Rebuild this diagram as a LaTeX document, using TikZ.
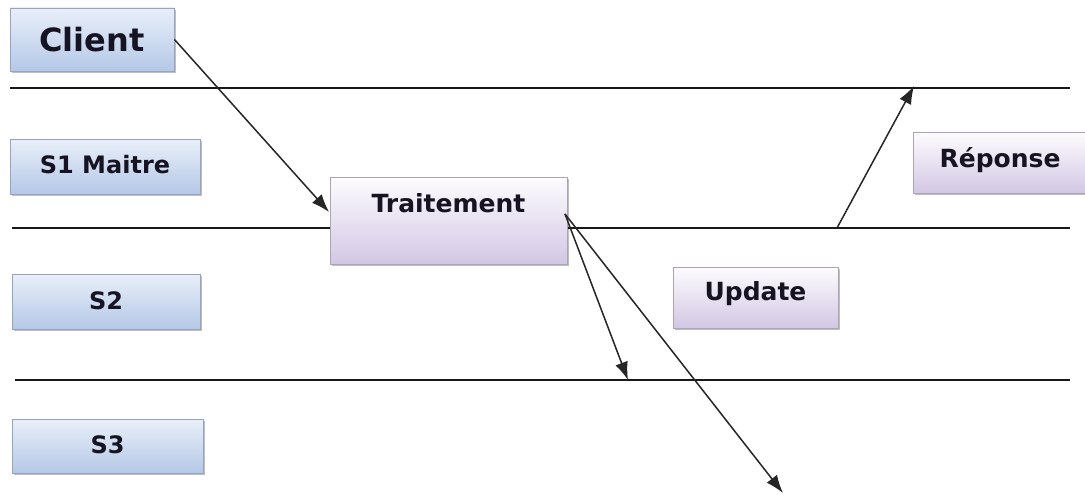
\documentclass[tikz,border=0pt]{standalone}
\usepackage{fontspec}
\setmainfont{DejaVu Sans}
\usetikzlibrary{arrows.meta,shadows}
\definecolor{bluetop}{RGB}{233,239,249}
\definecolor{bluebot}{RGB}{180,200,231}
\definecolor{blueedge}{RGB}{150,164,190}
\definecolor{lilactop}{RGB}{253,252,254}
\definecolor{lilacbot}{RGB}{211,199,228}
\definecolor{lilacedge}{RGB}{170,164,182}
\definecolor{ink}{RGB}{22,20,34}
\tikzset{
  lanebox/.style={rectangle, inner sep=0pt, draw=blueedge, line width=0.9pt,
    top color=bluetop, bottom color=bluebot,
    font=\bfseries\fontsize{24}{28}\selectfont, text=ink,
    drop shadow={shadow xshift=1.5pt, shadow yshift=-2pt, fill=black, opacity=0.25}},
  stepbox/.style={rectangle, inner sep=0pt, draw=lilacedge, line width=0.9pt,
    top color=lilactop, bottom color=lilacbot,
    font=\bfseries\fontsize{25}{30}\selectfont, text=ink,
    drop shadow={shadow xshift=1.5pt, shadow yshift=-2pt, fill=black, opacity=0.25}},
  lane/.style={line width=1.7pt, black!90},
  msg/.style={line width=1.5pt, black!85, -{Latex[length=18pt,width=13pt]}}
}
\begin{document}
\begin{tikzpicture}[x=1pt,y=-1pt]
\useasboundingbox (0,0) rectangle (1085,495);
\fill[white] (0,0) rectangle (1085,495);

% lane separators
\draw[lane] (10,88) -- (1070,88);
\draw[lane] (12,228) -- (1070,228);
\draw[lane] (15,380) -- (1070,380);

% participants
\node[lanebox, minimum width=164pt, minimum height=63pt, text height=44pt, text depth=19pt,
      font=\bfseries\fontsize{32}{38}\selectfont] (client) at (92,39.5) {Client};
\node[lanebox, minimum width=190pt, minimum height=55pt, text height=34pt, text depth=21pt] (s1) at (105,166.5) {S1 Maitre};
\node[lanebox, minimum width=188pt, minimum height=55pt, text height=35pt, text depth=20pt] (s2) at (106,301.5) {S2};
\node[lanebox, minimum width=191pt, minimum height=54pt, text height=34pt, text depth=20pt] (s3) at (107.5,446) {S3};

% processing steps
\node[stepbox, minimum width=237pt, minimum height=87pt, text height=35pt, text depth=52pt] (trait) at (448.5,220.5) {Traitement};
\node[stepbox, minimum width=165pt, minimum height=61pt, text height=33pt, text depth=28pt] (upd) at (755.5,297.5) {Update};
\node[stepbox, minimum width=174pt, minimum height=61pt, text height=35pt, text depth=26pt] (rep) at (1000,162.5) {Réponse};

% message end points
\coordinate (tin) at (329,212);
\coordinate (tout) at (565,214);
\coordinate (s2end) at (628,380);
\coordinate (s3end) at (783,493);
\coordinate (repfrom) at (837,228);
\coordinate (repto) at (914,86);

% messages
\draw[msg] (client.east) -- (tin);
\draw[msg] (tout) -- (s2end);
\draw[msg] (tout) -- (s3end);
\draw[msg] (repfrom) -- (repto);
\end{tikzpicture}
\end{document}
